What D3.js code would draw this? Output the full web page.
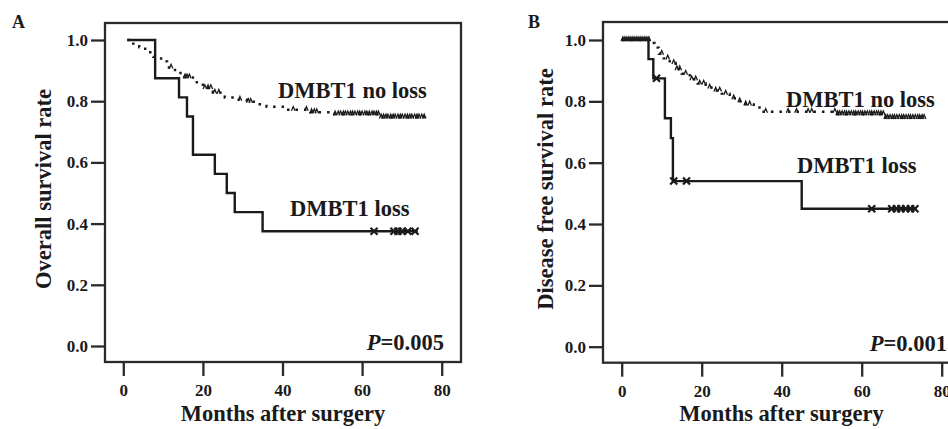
<!DOCTYPE html>
<html>
<head>
<meta charset="utf-8">
<script src="https://cdn.jsdelivr.net/npm/d3@7"></script>
<style>
  body { margin: 0; background: #fff; }
  svg { display: block; }
  text { font-family: "Liberation Serif", "Times New Roman", serif; font-weight: bold; fill: #1a1a1a; }
</style>
</head>
<body>
<script>
// ticks shared by both panels
const yTicks = [0, 0.2, 0.4, 0.6, 0.8, 1.0];
const xTicks = [0, 20, 40, 60, 80];

// Panel A - overall survival
const osLossTimes = [1, 8, 14, 16, 17.5, 23, 26, 28, 35, 74];
const osLossValues = [1, 0.875, 0.8125, 0.75, 0.625, 0.5625, 0.5, 0.4375, 0.375, 0.375];
const osLossCensored = [63, 68, 69, 70, 71.5, 73.3];
const osNoLossTimes = [1, 2.5, 4, 5.5, 7.5, 9.5, 11, 13, 15, 17.5, 20, 22.5, 25.5, 28.5, 31, 33.5, 36, 41, 47, 53, 64.5, 75.8];
const osNoLossValues = [1, 0.988, 0.976, 0.96, 0.945, 0.93, 0.91, 0.892, 0.878, 0.862, 0.843, 0.828, 0.812, 0.805, 0.798, 0.79, 0.782, 0.772, 0.764, 0.757, 0.747, 0.747];
const osNoLossCensored = [12, 15.5, 16, 16.6, 20.5, 21.3, 22, 23, 24, 29.3, 31.4, 32, 42.7, 46, 47.3, 48, 48.6,
  53.2, 54, 54.6, 55.3, 55.8, 56.4, 57.1, 57.6, 58.2, 58.9, 59.4, 60, 60.7, 61.2, 61.8, 62.5, 63, 63.6, 64.1,
  64.8, 65.4, 66, 66.5, 67.2, 67.8, 68.3, 69, 69.6, 70.1, 70.8, 71.4, 72, 72.5, 73.2, 73.8, 74.3, 75, 75.6];

// Panel B - disease free survival
const dfsLossTimes = [0, 6.7, 7.9, 10.8, 12.3, 12.8, 45, 73.7];
const dfsLossValues = [1, 0.9375, 0.875, 0.745, 0.68, 0.54, 0.45, 0.45];
const dfsLossCensored = [8.7, 13, 16.2, 62.5, 67.5, 68.7, 69.8, 71, 72.2, 73.3];
const dfsNoLossTimes = [0, 7.2, 8.2, 9.3, 10.5, 12, 13.5, 15, 17, 19, 21, 23, 25, 27, 29, 31, 33, 35, 54, 66, 75.8];
const dfsNoLossValues = [1, 0.99, 0.975, 0.955, 0.94, 0.925, 0.905, 0.89, 0.872, 0.858, 0.845, 0.835, 0.825, 0.81, 0.8, 0.79, 0.78, 0.766, 0.758, 0.746, 0.746];
const dfsNoLossCensored = [0.3, 0.8, 1.3, 1.8, 2.3, 2.8, 3.3, 3.8, 4.3, 4.8, 5.3, 5.8, 6.3, 6.8,
  10, 11.5, 13, 13.8, 14.5, 16, 17.5, 18.5, 19.5, 20.5, 22, 23.5, 24.5, 26, 28, 29.5, 31, 32,
  36, 41.6, 43.7, 46.6, 47.5, 53.3, 54, 54.5, 55.1, 55.7, 56.2, 56.8, 57.4, 58, 58.5, 59.1, 59.7,
  60.2, 60.8, 61.4, 62, 62.5, 63.1, 63.7, 64.2, 64.8, 65.4, 66, 66.5, 67.1, 67.7, 68.2, 68.8,
  69.4, 70, 70.5, 71.1, 71.7, 72.2, 72.8, 73.4, 74, 74.5, 75.1, 75.6];

const W = 948, H = 429;
const svg = d3.select("body").append("svg")
  .attr("width", W).attr("height", H)
  .attr("viewBox", [0, 0, W, H]);
svg.append("rect").attr("width", W).attr("height", H).attr("fill", "#fff");

const ink = "#1a1a1a";

function drawPanel(p) {
  const g = svg.append("g");
  const x = d3.scaleLinear().domain([0, 80]).range(p.xRange);
  const y = d3.scaleLinear().domain([0, 1]).range(p.yRange);

  // frame
  g.append("rect")
    .attr("x", p.frame[0]).attr("y", p.frame[1])
    .attr("width", p.frame[2] - p.frame[0]).attr("height", p.frame[3] - p.frame[1])
    .attr("fill", "none").attr("stroke", "#2a2a2a").attr("stroke-width", 2.3);

  // axes
  const ya = g.append("g")
    .attr("transform", `translate(${p.frame[0]},0)`)
    .call(d3.axisLeft(y).tickValues(yTicks).tickFormat(d3.format(".1f")).tickSize(14).tickPadding(3));
  const xa = g.append("g")
    .attr("transform", `translate(0,${p.frame[3]})`)
    .call(d3.axisBottom(x).tickValues(xTicks).tickSize(14).tickPadding(8));
  [ya, xa].forEach(a => {
    a.select("path.domain").remove();
    a.selectAll("line").attr("stroke", "#2a2a2a").attr("stroke-width", 2.3);
    a.selectAll("text").attr("font-size", 17).attr("fill", ink)
      .style("font-family", '"Liberation Serif", serif').style("font-weight", "bold");
  });

  // axis titles
  g.append("text")
    .attr("x", (p.frame[0] + p.frame[2]) / 2).attr("y", 421)
    .attr("text-anchor", "middle").attr("font-size", 22.5)
    .text("Months after surgery");
  g.append("text")
    .attr("transform", `translate(${p.yTitleX},${189}) rotate(-90)`)
    .attr("text-anchor", "middle").attr("font-size", 22.5)
    .text(p.yTitle);

  // panel letter
  g.append("text").attr("x", p.letterX).attr("y", 28).attr("font-size", 18).text(p.letter);

  const line = d3.line().x(d => x(d[0])).y(d => y(d[1])).curve(d3.curveStepAfter);
  const stepAt = (times, values, t) => values[Math.max(0, d3.bisectRight(times, t) - 1)];

  // no loss group: dotted step curve with small tick censor marks
  const nl = p.noLossTimes.map((t, i) => [t, p.noLossValues[i]]);
  g.append("path").attr("d", line(nl))
    .attr("fill", "none").attr("stroke", ink).attr("stroke-width", 2.4)
    .attr("stroke-dasharray", "2.5,6");
  g.append("g").selectAll("path")
    .data(p.noLossCensored)
    .join("path")
    .attr("transform", d => `translate(${x(d)},${y(stepAt(p.noLossTimes, p.noLossValues, d))})`)
    .attr("d", "M-1.8,1L0,-3.2L1.8,1")
    .attr("fill", "none").attr("stroke", ink).attr("stroke-width", 1.3);

  // loss group: solid step curve with x censor marks
  const ls = p.lossTimes.map((t, i) => [t, p.lossValues[i]]);
  g.append("path").attr("d", line(ls))
    .attr("fill", "none").attr("stroke", ink).attr("stroke-width", 2.4);
  g.append("g").selectAll("path")
    .data(p.lossCensored)
    .join("path")
    .attr("transform", d => `translate(${x(d)},${y(stepAt(p.lossTimes, p.lossValues, d))})`)
    .attr("d", "M-3.5,-3.5L3.5,3.5M-3.5,3.5L3.5,-3.5")
    .attr("fill", "none").attr("stroke", ink).attr("stroke-width", 2.2);

  // labels
  g.append("text").attr("x", p.noLossLabel[0]).attr("y", p.noLossLabel[1])
    .attr("font-size", 22.5).text("DMBT1 no loss");
  g.append("text").attr("x", p.lossLabel[0]).attr("y", p.lossLabel[1])
    .attr("font-size", 22.5).text("DMBT1 loss");
  const pt = g.append("text").attr("x", p.pLabel[0]).attr("y", p.pLabel[1])
    .attr("text-anchor", "end").attr("font-size", 22.5);
  pt.append("tspan").attr("font-style", "italic").text("P");
  pt.append("tspan").text("=" + p.pValue);
}

drawPanel({
  letter: "A", letterX: 12,
  frame: [105, 23, 461, 362],
  xRange: [123.3, 441.7], yRange: [346, 40],
  yTitle: "Overall survival rate", yTitleX: 51,
  lossTimes: osLossTimes, lossValues: osLossValues, lossCensored: osLossCensored,
  noLossTimes: osNoLossTimes, noLossValues: osNoLossValues, noLossCensored: osNoLossCensored,
  noLossLabel: [278, 98], lossLabel: [290, 216], pLabel: [444, 350], pValue: "0.005"
});

drawPanel({
  letter: "B", letterX: 528,
  frame: [603, 22, 960, 362.7],
  xRange: [621.7, 941.7], yRange: [346.7, 40],
  yTitle: "Disease free survival rate", yTitleX: 553,
  lossTimes: dfsLossTimes, lossValues: dfsLossValues, lossCensored: dfsLossCensored,
  noLossTimes: dfsNoLossTimes, noLossValues: dfsNoLossValues, noLossCensored: dfsNoLossCensored,
  noLossLabel: [786, 107], lossLabel: [797, 173], pLabel: [947, 351], pValue: "0.001"
});
</script>
</body>
</html>
